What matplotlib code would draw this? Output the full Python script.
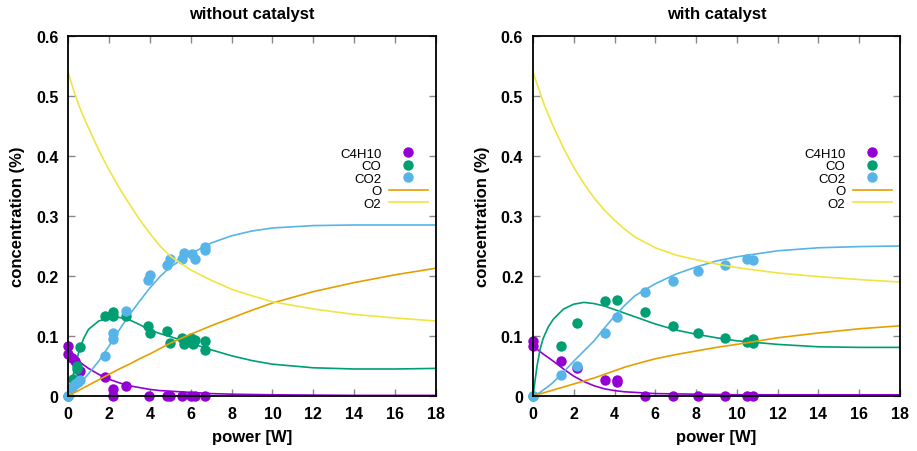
import matplotlib
matplotlib.use("Agg")
import matplotlib.pyplot as plt

plt.rcParams["font.family"] = ["Liberation Sans", "DejaVu Sans"]

# measured points, without catalyst
wo_c4h10_x = [0, 0, 0.18, 0.33, 0.59, 1.81, 2.18, 2.18, 2.82, 3.95, 4.83, 5.0, 5.56, 6.0, 6.2, 6.7]
wo_c4h10_y = [0.084, 0.07, 0.063, 0.059, 0.042, 0.031, 0.011, 0.0, 0.016, 0, 0, 0, 0, 0, 0, 0]
wo_co_x = [0, 0.26, 0.42, 0.45, 0.59, 1.81, 2.18, 2.18, 2.82, 3.93, 4.0, 4.83, 5.0, 5.56, 5.65, 6.0, 6.1, 6.2, 6.7, 6.7]
wo_co_y = [0, 0.028, 0.05, 0.045, 0.081, 0.133, 0.14, 0.134, 0.134, 0.117, 0.105, 0.108, 0.089, 0.096, 0.086,
           0.096, 0.087, 0.093, 0.092, 0.077]
wo_co2_x = [0, 0.2, 0.33, 0.5, 0.57, 1.8, 2.18, 2.18, 2.82, 3.93, 4.0, 4.83, 5.0, 5.56, 5.65, 6.05, 6.2, 6.7, 6.7]
wo_co2_y = [0, 0.0145, 0.02, 0.024, 0.026, 0.067, 0.095, 0.105, 0.142, 0.193, 0.202, 0.219, 0.228, 0.229, 0.238,
            0.237, 0.229, 0.249, 0.243]

# model curves, without catalyst
wo_fit_x = [0, 0.25, 0.5, 0.75, 1, 1.5, 2, 2.5, 3, 3.5, 4, 4.5, 5, 6, 7, 8, 9, 10, 12, 14, 16, 18]
wo_fit_c4h10 = [0.073, 0.065, 0.059, 0.052, 0.046, 0.036, 0.028, 0.022, 0.017, 0.014, 0.011, 0.009, 0.008,
                0.006, 0.004, 0.003, 0.0025, 0.002, 0.0015, 0.001, 0.001, 0.001]
wo_fit_co = [0, 0.035, 0.07, 0.095, 0.111, 0.125, 0.13, 0.131, 0.127, 0.119, 0.11, 0.104, 0.099, 0.088,
             0.077, 0.067, 0.059, 0.053, 0.047, 0.045, 0.045, 0.046]
wo_fit_co2 = [0, 0.008, 0.017, 0.027, 0.037, 0.058, 0.083, 0.11, 0.135, 0.158, 0.18, 0.199, 0.215, 0.237,
              0.255, 0.267, 0.275, 0.28, 0.284, 0.285, 0.285, 0.285]
wo_fit_o = [0, 0.0045, 0.009, 0.0135, 0.018, 0.027, 0.036, 0.045, 0.053, 0.062, 0.07, 0.079, 0.088, 0.103,
            0.117, 0.13, 0.143, 0.155, 0.174, 0.189, 0.202, 0.213]
wo_fit_o2 = [0.54, 0.512, 0.487, 0.466, 0.447, 0.41, 0.377, 0.347, 0.32, 0.294, 0.271, 0.25, 0.233, 0.21,
             0.193, 0.178, 0.167, 0.157, 0.145, 0.136, 0.13, 0.125]

# measured points, with catalyst
w_c4h10_x = [0, 0, 1.36, 2.17, 3.53, 4.14, 4.14, 5.49, 6.88, 8.1, 9.42, 10.48, 10.8]
w_c4h10_y = [0.092, 0.084, 0.059, 0.046, 0.027, 0.027, 0.023, 0, 0, 0, 0, 0, 0]
w_co_x = [0, 1.36, 2.17, 3.53, 4.14, 5.49, 6.88, 8.1, 9.42, 10.48, 10.8, 10.8]
w_co_y = [0, 0.084, 0.122, 0.158, 0.16, 0.14, 0.117, 0.105, 0.097, 0.0905, 0.095, 0.088]
w_co2_x = [0, 1.36, 2.17, 3.53, 4.14, 5.49, 6.88, 8.1, 9.42, 10.48, 10.8]
w_co2_y = [0, 0.035, 0.05, 0.105, 0.131, 0.174, 0.192, 0.209, 0.218, 0.229, 0.227]

# model curves, with catalyst
w_fit_x = [0, 0.1, 0.2, 0.35, 0.5, 0.75, 1, 1.5, 2, 2.5, 3, 3.5, 4, 4.5, 5, 6, 7, 8, 9, 10, 12, 14, 16, 18]
w_fit_c4h10 = [0.084, 0.081, 0.078, 0.074, 0.07, 0.064, 0.058, 0.045, 0.033, 0.024, 0.017, 0.012, 0.009,
               0.007, 0.006, 0.004, 0.0035, 0.003, 0.0025, 0.002, 0.002, 0.002, 0.002, 0.002]
w_fit_co = [0, 0.025, 0.05, 0.078, 0.096, 0.115, 0.128, 0.145, 0.153, 0.156, 0.154, 0.15, 0.144, 0.138,
            0.132, 0.12, 0.11, 0.103, 0.097, 0.092, 0.086, 0.082, 0.081, 0.081]
w_fit_co2 = [0, 0.001, 0.003, 0.006, 0.01, 0.016, 0.023, 0.04, 0.058, 0.075, 0.092, 0.113, 0.133, 0.151,
             0.167, 0.187, 0.203, 0.215, 0.225, 0.232, 0.242, 0.247, 0.249, 0.25]
w_fit_o = [0, 0.001, 0.002, 0.0035, 0.005, 0.0075, 0.01, 0.015, 0.02, 0.025, 0.03, 0.036, 0.042, 0.048,
           0.053, 0.062, 0.069, 0.075, 0.081, 0.086, 0.097, 0.105, 0.112, 0.117]
w_fit_o2 = [0.54, 0.53, 0.52, 0.505, 0.49, 0.469, 0.449, 0.413, 0.381, 0.354, 0.33, 0.31, 0.293, 0.278,
            0.265, 0.247, 0.235, 0.227, 0.22, 0.214, 0.205, 0.199, 0.194, 0.19]

col_c4h10 = "#9400d3"
col_co = "#009e73"
col_co2 = "#56b4e9"
col_o = "#e69f00"
col_o2 = "#f0e442"

fig = plt.figure(figsize=(9.17, 4.52), dpi=100)
ax1 = fig.add_axes([0.0742, 0.1217, 0.4013, 0.7965])
ax2 = fig.add_axes([0.5812, 0.1217, 0.4002, 0.7965])

panels = [
    (ax1, "without catalyst", wo_c4h10_x, wo_c4h10_y, wo_co_x, wo_co_y, wo_co2_x, wo_co2_y,
     wo_fit_x, wo_fit_c4h10, wo_fit_co, wo_fit_co2, wo_fit_o, wo_fit_o2),
    (ax2, "with catalyst", w_c4h10_x, w_c4h10_y, w_co_x, w_co_y, w_co2_x, w_co2_y,
     w_fit_x, w_fit_c4h10, w_fit_co, w_fit_co2, w_fit_o, w_fit_o2),
]

for (ax, title, c4x, c4y, cox, coy, co2x, co2y,
     fx, fc4, fco, fco2, fo, fo2) in panels:

    ax.plot(fx, fc4, color=col_c4h10, lw=1.2)
    ax.plot(fx, fco, color=col_co, lw=1.2)
    ax.plot(fx, fco2, color=col_co2, lw=1.2)

    ax.plot(c4x, c4y, "o", color=col_c4h10, ms=7.5, mec="none", label="C4H10", clip_on=False)
    ax.plot(cox, coy, "o", color=col_co, ms=7.5, mec="none", label="CO", clip_on=False)
    ax.plot(co2x, co2y, "o", color=col_co2, ms=7.5, mec="none", label="CO2", clip_on=False)

    ax.plot(fx, fo, color=col_o, lw=1.2, label="O")
    ax.plot(fx, fo2, color=col_o2, lw=1.2, label="O2")

    ax.set_xlim(0, 18)
    ax.set_ylim(0, 0.6)
    ax.set_xticks(range(0, 19, 2))
    ax.set_yticks([0, 0.1, 0.2, 0.3, 0.4, 0.5, 0.6])
    ax.set_yticklabels(["0", "0.1", "0.2", "0.3", "0.4", "0.5", "0.6"])

    ax.tick_params(direction="in", top=True, right=True, length=5, width=1,
                   color="#888888", labelsize=11.5, pad=7)
    for lab in ax.get_xticklabels() + ax.get_yticklabels():
        lab.set_fontweight("bold")
    for sp in ax.spines.values():
        sp.set_linewidth(1.3)

    ax.set_title(title, fontsize=12, fontweight="bold", pad=13)
    ax.set_xlabel("power [W]", fontsize=12, fontweight="bold", labelpad=6)
    ax.set_ylabel("concentration (%)", fontsize=12, fontweight="bold", labelpad=8)

    ax.legend(loc="upper right", bbox_to_anchor=(0.995, 0.708), frameon=False, markerfirst=False,
              fontsize=9.5, handlelength=2.9, handletextpad=0.6, labelspacing=0.02, borderpad=0)

fig.savefig("out.png", dpi=100)
